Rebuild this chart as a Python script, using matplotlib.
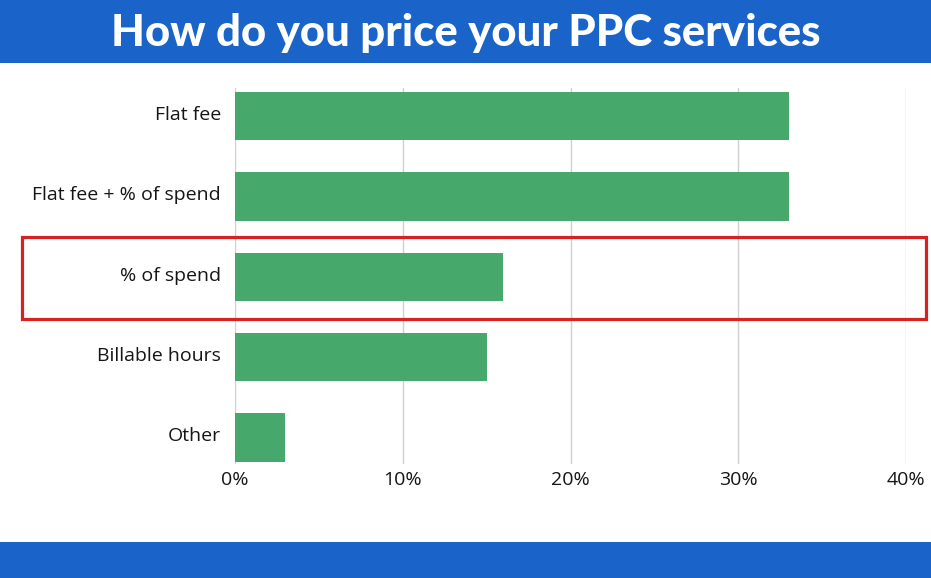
import matplotlib.pyplot as plt
import matplotlib.transforms as mtransforms
from matplotlib.patches import Rectangle

categories = ['Flat fee', 'Flat fee + % of spend', '% of spend', 'Billable hours', 'Other']
values = [33, 33, 16, 15, 3]
x_ticks = [0, 10, 20, 30, 40]
tick_labels = ['0%', '10%', '20%', '30%', '40%']

blue = '#1a64c9'
green = '#46a86b'

fig = plt.figure(figsize=(9.31, 5.78), dpi=100)
fig.patch.set_facecolor('white')

# blue banners top and bottom
fig.add_artist(Rectangle((0, 1 - 63 / 578), 1, 63 / 578, transform=fig.transFigure,
                         facecolor=blue, edgecolor='none', zorder=0))
fig.add_artist(Rectangle((0, 0), 1, 36 / 578, transform=fig.transFigure,
                         facecolor=blue, edgecolor='none', zorder=0))
fig.text(0.5, 1 - 33 / 578, 'How do you price your PPC services', ha='center', va='center',
         color='white', fontsize=31.5, fontweight='black', family='Lato')

ax = fig.add_axes([235 / 931, 114 / 578, 671 / 931, 376 / 578])
ypos = list(range(len(categories)))
ax.barh(ypos, values, height=0.6, color=green, zorder=3)
ax.set_xlim(0, 40)
ax.set_ylim(4.33, -0.35)
ax.set_yticks(ypos)
ax.set_yticklabels(categories, fontsize=14, family='Open Sans', color='#151515')
ax.set_xticks(x_ticks)
ax.set_xticklabels(tick_labels, fontsize=14, family='Open Sans', color='#151515')
ax.tick_params(axis='y', length=0, pad=10)
ax.tick_params(axis='x', length=0, pad=5)
shift = mtransforms.ScaledTranslation(0, 3 / 100, fig.dpi_scale_trans)
for lbl in ax.get_yticklabels():
    lbl.set_va('center_baseline')
    lbl.set_transform(lbl.get_transform() + shift)
ax.grid(axis='x', color='#d0d0d0', linewidth=1, zorder=0)
for s in ax.spines.values():
    s.set_visible(False)

# red highlight box around "% of spend"
fig.add_artist(Rectangle((22 / 931, 1 - 319 / 578), 904 / 931, 82 / 578, transform=fig.transFigure,
                         facecolor='none', edgecolor='#d62222', linewidth=2.3, zorder=10))

fig.savefig('out.png', dpi=100)
